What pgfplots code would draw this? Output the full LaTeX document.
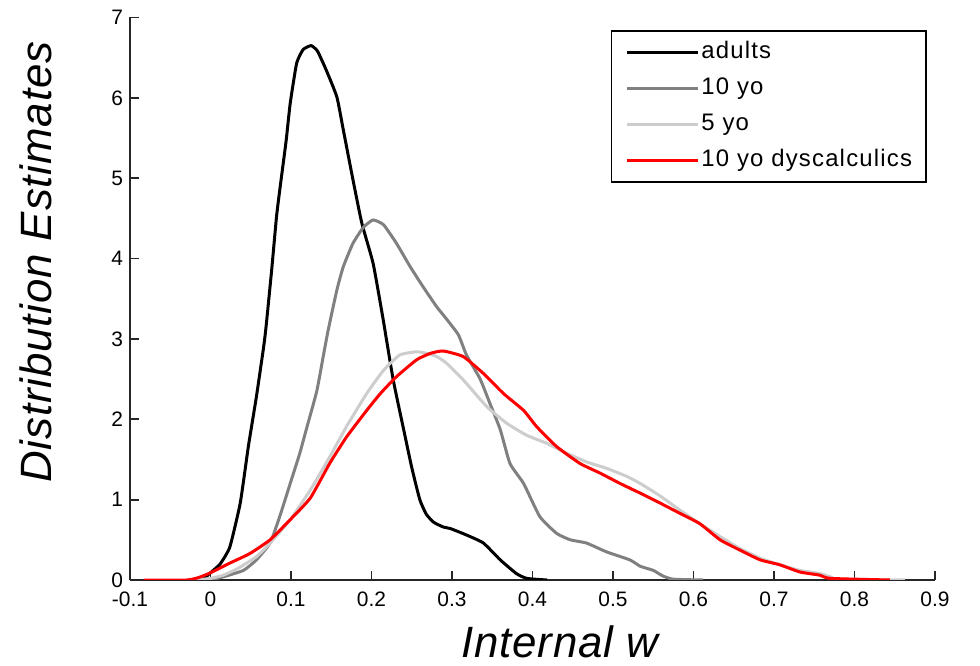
\documentclass[border=0pt]{standalone}
\usepackage{fontspec}
\setmainfont{Liberation Sans}
\newfontfamily\labfont[LetterSpace=2]{Liberation Sans}
\newfontfamily\legfont[LetterSpace=5]{Liberation Sans}
\usepackage{pgfplots}
\pgfplotsset{compat=1.18}
\definecolor{tengray}{RGB}{128,128,128}
\definecolor{fivegray}{RGB}{205,205,205}
\definecolor{dysred}{RGB}{255,0,0}

\begin{document}
\begin{tikzpicture}
\useasboundingbox (0,0) rectangle (490bp,333bp);
\begin{axis}[
  at={(65bp,43bp)}, anchor=south west,
  scale only axis, width=402.5bp, height=281.25bp,
  xmin=-0.1, xmax=0.9, ymin=0, ymax=7,
  axis x line*=bottom, axis y line*=left,
  axis line style={line width=0.9bp, black!85},
  tick align=inside, major tick length=4.5bp,
  tick style={line width=0.9bp, black!85},
  xtick={-0.1,0,0.1,0.2,0.3,0.4,0.5,0.6,0.7,0.8,0.9},
  xticklabels={-0.1,0,0.1,0.2,0.3,0.4,0.5,0.6,0.7,0.8,0.9},
  ytick={0,1,2,3,4,5,6,7},
  yticklabels={0,1,2,3,4,5,6,7},
  ticklabel style={font=\fontsize{10.5}{12}\selectfont},
  xticklabel style={yshift=-2.5bp},
  xlabel={\labfont\itshape Internal w},
  ylabel={\labfont\itshape Distribution Estimates},
  label style={font=\fontsize{22}{26}\selectfont},
  xlabel style={at={([yshift=-38.5bp]rel axis cs:0.534,0)}, anchor=base},
  ylabel style={at={([xshift=-39bp]rel axis cs:0,0.565)}, anchor=base, rotate=0},
  legend style={at={(rel axis cs:0.99,0.978)}, anchor=north east,
    draw=black, line width=0.9bp, fill=white,
    font=\fontsize{12}{14}\selectfont\legfont,
    inner xsep=7bp, inner ysep=5bp, row sep=6.5bp, column sep=1bp,
    nodes={inner sep=0pt, text height=9bp, text depth=2.5bp}},
  legend cell align=left,
  legend image code/.code={\draw[#1] (0bp,0bp) -- (35.5bp,0bp);},
  every axis plot/.append style={smooth, tension=0.3},
]
% adults
\addplot[black, line width=1.5bp] coordinates {
 (-0.01,0) (0.0,0.09) (0.012,0.2) (0.024,0.41) (0.037,0.96) (0.047,1.66)
 (0.057,2.28) (0.066,2.9) (0.069,3.15) (0.076,3.86) (0.082,4.52) (0.086,4.85)
 (0.094,5.47) (0.099,5.93) (0.107,6.43) (0.115,6.6) (0.125,6.65) (0.133,6.58)
 (0.144,6.34) (0.157,6.01) (0.165,5.6) (0.177,4.98) (0.188,4.44) (0.202,3.94)
 (0.214,3.27) (0.227,2.49) (0.24,1.87) (0.25,1.4) (0.26,1.0) (0.268,0.82)
 (0.277,0.72) (0.289,0.66) (0.298,0.64) (0.318,0.56) (0.339,0.46) (0.36,0.25)
 (0.38,0.08) (0.393,0.02) (0.418,0)};
\addlegendentry{adults}
% 10 yo
\addplot[tengray, line width=1.5bp] coordinates {
 (0.0,0) (0.016,0.04) (0.041,0.12) (0.057,0.25) (0.074,0.46) (0.086,0.79)
 (0.099,1.2) (0.111,1.58) (0.12,1.91) (0.132,2.35) (0.14,2.78) (0.146,3.1)
 (0.157,3.61) (0.165,3.9) (0.177,4.19) (0.19,4.39) (0.202,4.48) (0.215,4.42)
 (0.231,4.19) (0.248,3.9) (0.264,3.65) (0.281,3.4) (0.293,3.25) (0.308,3.05)
 (0.318,2.8) (0.335,2.5) (0.347,2.2) (0.36,1.87) (0.372,1.45) (0.389,1.2)
 (0.409,0.79) (0.43,0.58) (0.447,0.5) (0.467,0.46) (0.492,0.35) (0.521,0.25)
 (0.534,0.17) (0.55,0.12) (0.562,0.05) (0.575,0.01) (0.612,0)};
\addlegendentry{10 yo}
% 5 yo
\addplot[fivegray, line width=1.5bp] coordinates {
 (-0.02,0) (0.0,0.02) (0.016,0.06) (0.035,0.15) (0.057,0.29) (0.074,0.46)
 (0.099,0.75) (0.124,1.12) (0.148,1.53) (0.169,1.91) (0.194,2.32) (0.215,2.61)
 (0.235,2.8) (0.256,2.84) (0.269,2.82) (0.281,2.78) (0.293,2.7) (0.314,2.49)
 (0.343,2.16) (0.368,1.95) (0.393,1.8) (0.418,1.7) (0.442,1.58) (0.467,1.47)
 (0.492,1.39) (0.517,1.29) (0.534,1.2) (0.558,1.05) (0.583,0.87) (0.608,0.7)
 (0.633,0.54) (0.658,0.39) (0.683,0.27) (0.707,0.19) (0.732,0.12) (0.757,0.08)
 (0.77,0.04) (0.78,0.01) (0.863,0)};
\addlegendentry{5 yo}
% 10 yo dyscalculics
\addplot[dysred, line width=1.5bp] coordinates {
 (-0.083,0) (-0.03,0) (-0.015,0.03) (0.0,0.09) (0.024,0.21) (0.049,0.33)
 (0.074,0.5) (0.099,0.75) (0.124,1.02) (0.148,1.45) (0.169,1.78) (0.194,2.11)
 (0.211,2.32) (0.231,2.53) (0.256,2.74) (0.273,2.82) (0.289,2.85) (0.314,2.78)
 (0.339,2.57) (0.364,2.32) (0.389,2.11) (0.405,1.91) (0.43,1.66) (0.459,1.45)
 (0.484,1.33) (0.509,1.2) (0.534,1.08) (0.558,0.96) (0.583,0.83) (0.608,0.7)
 (0.633,0.5) (0.658,0.37) (0.683,0.25) (0.707,0.19) (0.732,0.1) (0.757,0.06)
 (0.77,0.02) (0.844,0)};
\addlegendentry{10 yo dyscalculics}
\end{axis}
\end{tikzpicture}
\end{document}
